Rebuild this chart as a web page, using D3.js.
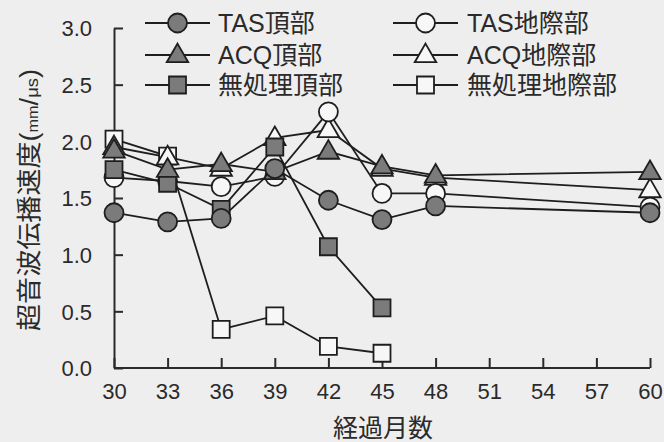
<!DOCTYPE html>
<html>
<head>
<meta charset="utf-8">
<script src="https://cdn.jsdelivr.net/npm/d3@7"></script>
<style>
  body { margin: 0; background: #eeeeee; }
  svg { display: block; }
  text { font-family: "Liberation Sans", Arial, "Noto Sans CJK JP", sans-serif; fill: #2a2a2a; }
</style>
</head>
<body>
<svg id="chart" width="664" height="442"></svg>
<script>
// months on x axis
const months = [30, 33, 36, 39, 42, 45, 48, 60];
const xTicks = [30, 33, 36, 39, 42, 45, 48, 51, 54, 57, 60];
const yTicks = [0, 0.5, 1.0, 1.5, 2.0, 2.5, 3.0];

// series values (null = no measurement)
const tasTop   = [1.37, 1.29, 1.32, 1.76, 1.48, 1.31, 1.43, 1.37];
const tasBase  = [1.68, 1.65, 1.60, 1.69, 2.26, 1.54, 1.54, 1.42];
const acqTop   = [1.92, 1.75, 1.80, 1.73, 1.91, 1.78, 1.70, 1.73];
const acqBase  = [1.95, 1.86, 1.76, 2.03, 2.10, 1.76, 1.68, 1.57];
const noneTop  = [1.75, 1.63, 1.40, 1.95, 1.07, 0.53, null, null];
const noneBase = [2.02, 1.87, 0.34, 0.46, 0.19, 0.13, null, null];

const seriesNames = ["TAS頂部", "TAS地際部", "ACQ頂部", "ACQ地際部", "無処理頂部", "無処理地際部"];
const seriesShapes = ["circle", "circle", "triangle", "triangle", "square", "square"];
const seriesFilled = [true, false, true, false, true, false];
const seriesValues = [tasTop, tasBase, acqTop, acqBase, noneTop, noneBase];

const svg = d3.select("#chart");

const x = d3.scaleLinear().domain([30, 60]).range([114, 650]);
const y = d3.scaleLinear().domain([0, 3]).range([368, 28]);

const grayFill = "#7b7b7b";
const openFill = "#f7f7f7";

function symbolFor(shape) {
  if (shape == "circle") return d3.symbol().type(d3.symbolCircle).size(Math.PI * 9.5 * 9.5);
  if (shape == "square") return d3.symbol().type(d3.symbolSquare).size(17 * 17);
  return d3.symbol().type(d3.symbolTriangle).size(200);
}

// axes
const xAxis = d3.axisBottom(x).tickValues(xTicks).tickSizeInner(-10).tickSizeOuter(0).tickFormat(d3.format("d"));
const gx = svg.append("g").attr("transform", "translate(0," + y(0) + ")").call(xAxis);
gx.select(".domain").attr("stroke", "#2a2a2a").attr("stroke-width", 2).attr("d", "M114,0H650");
gx.selectAll(".tick line").attr("stroke", "#2a2a2a").attr("stroke-width", 2);
gx.selectAll(".tick text").attr("y", 25).attr("font-size", 22).attr("dy", 0).attr("dominant-baseline", "middle");

const yAxis = d3.axisLeft(y).tickValues(yTicks).tickSizeInner(-9).tickSizeOuter(0).tickFormat(d3.format(".1f"));
const gy = svg.append("g").attr("transform", "translate(" + x(30) + ",0)").call(yAxis);
gy.select(".domain").attr("stroke", "#2a2a2a").attr("stroke-width", 2);
gy.selectAll(".tick line").attr("stroke", "#2a2a2a").attr("stroke-width", 2);
gy.selectAll(".tick text").attr("x", -22).attr("font-size", 22).attr("dy", "0.35em");
gx.selectAll("text").style("fill", "#2a2a2a");
gy.selectAll("text").style("fill", "#2a2a2a");

// axis titles
svg.append("text")
  .attr("x", 383).attr("y", 437)
  .attr("text-anchor", "middle")
  .attr("font-size", 25)
  .text("経過月数");

const yt = svg.append("text")
  .attr("transform", "translate(38,200) rotate(-90)")
  .attr("text-anchor", "middle")
  .attr("font-size", 25)
  .attr("textLength", 262)
  .attr("lengthAdjust", "spacingAndGlyphs");
yt.append("tspan").text("超音波伝播速度(");
yt.append("tspan").attr("font-size", 15).text("mm");
yt.append("tspan").text("/");
yt.append("tspan").attr("font-size", 17).text("μs");
yt.append("tspan").text(")");

// lines
const line = d3.line()
  .defined(d => d.v != null)
  .x(d => x(d.m))
  .y(d => y(d.v));

seriesValues.forEach(function (vals, i) {
  const pts = months.map((m, j) => ({ m: m, v: vals[j] }));
  svg.append("path")
    .datum(pts)
    .attr("fill", "none")
    .attr("stroke", "#1e1e1e")
    .attr("stroke-width", 1.8)
    .attr("d", line);
});

// markers: open ones first, filled ones on top
const order = [5, 3, 1, 4, 2, 0];
order.forEach(function (i) {
  const pts = months.map((m, j) => ({ m: m, v: seriesValues[i][j] })).filter(d => d.v != null);
  const sym = symbolFor(seriesShapes[i]);
  svg.append("g").selectAll("path")
    .data(pts)
    .enter()
    .append("path")
    .attr("d", sym)
    .attr("transform", d => "translate(" + x(d.m) + "," + (y(d.v) + (seriesShapes[i] == "triangle" ? 1 : 0)) + ")")
    .attr("fill", seriesFilled[i] ? grayFill : openFill)
    .attr("stroke", "#1e1e1e")
    .attr("stroke-width", 1.8);
});

// legend
const legRows = [23, 55, 85];
const legCols = [{ x1: 145, x2: 210, tx: 218 }, { x1: 393, x2: 458, tx: 467 }];
seriesNames.forEach(function (name, i) {
  const col = legCols[i % 2];
  const ry = legRows[Math.floor(i / 2)];
  const g = svg.append("g");
  g.append("line")
    .attr("x1", col.x1).attr("x2", col.x2)
    .attr("y1", ry).attr("y2", ry)
    .attr("stroke", "#1e1e1e").attr("stroke-width", 1.8);
  g.append("path")
    .attr("d", symbolFor(seriesShapes[i]))
    .attr("transform", "translate(" + (col.x1 + col.x2) / 2 + "," + (ry + (seriesShapes[i] == "triangle" ? 1 : 0)) + ")")
    .attr("fill", seriesFilled[i] ? grayFill : openFill)
    .attr("stroke", "#1e1e1e").attr("stroke-width", 1.8);
  g.append("text")
    .attr("x", col.tx).attr("y", ry)
    .attr("dy", "0.35em")
    .attr("font-size", 25)
    .text(name);
});
</script>
</body>
</html>
